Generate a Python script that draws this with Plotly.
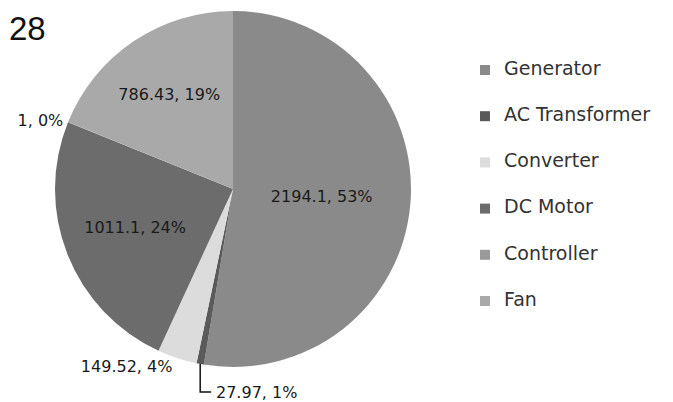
import math
import plotly.graph_objects as go

# Component shares of the system
labels = ["Generator", "AC Transformer", "Converter", "DC Motor", "Controller", "Fan"]
values = [2194.1, 27.97, 149.52, 1011.1, 1, 786.43]
colors = ["#8a8a8a", "#5a5a5a", "#dcdcdc", "#6c6c6c", "#9a9a9a", "#a9a9a9"]
# the AC Transformer label is drawn separately with an elbow leader line
text_pos = ["inside", "none", "outside", "inside", "outside", "inside"]

W, H = 673, 402
cx, cy, r = 233, 189, 178  # pie centre and radius in pixels
label_font = dict(family="DejaVu Sans", size=16, color="#1a1a1a")

fig = go.Figure()

fig.add_trace(go.Pie(
    labels=labels,
    values=values,
    sort=False,
    direction="clockwise",
    rotation=0,
    marker=dict(colors=colors, line=dict(width=0)),
    texttemplate="%{value:.6~g}, %{percent:.0%}",
    textposition=text_pos,
    insidetextorientation="horizontal",
    textfont=label_font,
    outsidetextfont=label_font,
    showlegend=False,
    hoverinfo="label+value+percent",
    domain=dict(x=[(cx - r) / W, (cx + r) / W],
                y=[(H - cy - r) / H, (H - cy + r) / H]),
))

# Elbow leader for the AC Transformer slice, anchored at the slice's mid-angle
total = sum(values)
k = labels.index("AC Transformer")
mid = (sum(values[:k]) + values[k] / 2) / total
theta = 2 * math.pi * mid
ex = cx + r * math.sin(theta)
ey = cy - r * math.cos(theta)
ly = 392  # label row
px = lambda x: x / W
py = lambda y: 1 - y / H
fig.add_shape(
    type="path", xref="paper", yref="paper",
    path=f"M {px(ex)} {py(ey)} L {px(ex)} {py(ly)} L {px(ex + 11)} {py(ly)}",
    line=dict(color="#111111", width=1.5),
)
ac_text = f"{values[k]:g}, {round(100 * values[k] / total):d}%"

# Legend drawn as a column of swatches with labels
idx = list(range(len(labels)))
fig.add_trace(go.Scatter(
    x=[485] * len(labels),
    y=idx,
    mode="markers",
    marker=dict(symbol="square", size=10, color=colors),
    xaxis="x", yaxis="y",
    showlegend=False, hoverinfo="skip",
))
fig.add_trace(go.Scatter(
    x=[504] * len(labels),
    y=idx,
    mode="text",
    text=labels,
    textposition="middle right",
    textfont=dict(family="DejaVu Sans", size=19, color="#333333"),
    xaxis="x", yaxis="y",
    showlegend=False, hoverinfo="skip",
))

step = 46.2
top = 70
fig.update_layout(
    width=W, height=H,
    margin=dict(l=0, r=0, t=0, b=0),
    paper_bgcolor="white", plot_bgcolor="rgba(0,0,0,0)",
    xaxis=dict(range=[0, W], domain=[0, 1], visible=False, fixedrange=True),
    yaxis=dict(range=[(H - top) / step, -top / step], domain=[0, 1],
               visible=False, fixedrange=True),
    annotations=[
        dict(text="28", x=7 / W, y=1 - 8 / H, xref="paper", yref="paper",
             xanchor="left", yanchor="top", showarrow=False,
             font=dict(family="Liberation Sans", size=33, color="#111111")),
        dict(text=ac_text, x=px(ex + 14), y=py(ly), xref="paper", yref="paper",
             xanchor="left", yanchor="middle", showarrow=False,
             font=label_font),
    ],
)

fig.write_html("out.html")
